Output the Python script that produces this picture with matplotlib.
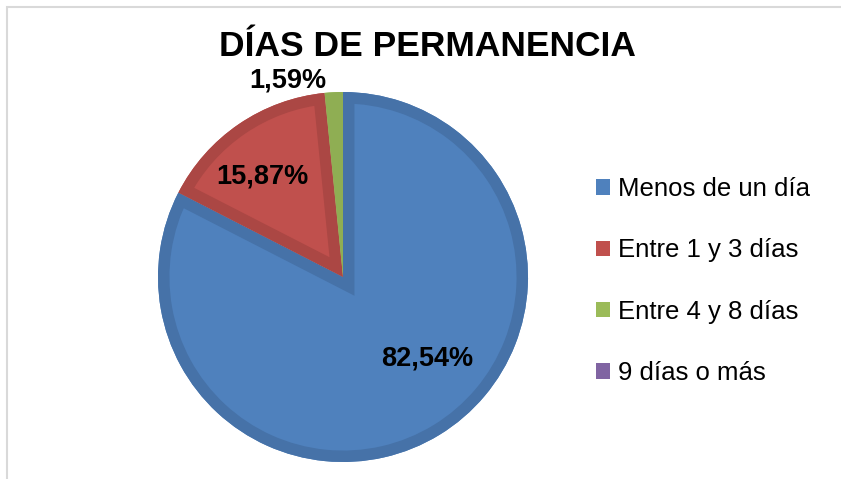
import matplotlib
matplotlib.use('Agg')
import matplotlib.pyplot as plt
from matplotlib.patches import Patch, Rectangle, Wedge

# data
categories = ['Menos de un día', 'Entre 1 y 3 días', 'Entre 4 y 8 días', '9 días o más']
percentages = [82.54, 15.87, 1.59, 0.0]
fill_colors = ['#4F81BD', '#C0504D', '#9BBB59', '#8064A2']
edge_colors = ['#4672A8', '#AB4744', '#8FAE53', '#735A92']
chart_title = 'DÍAS DE PERMANENCIA'

# label positions (pixels from top-left), Excel puts them by hand
label_pos = [(427, 358), (262, 176), (288, 80)]

W, H = 841, 479
plt.rcParams['font.family'] = ['Liberation Sans', 'DejaVu Sans']

fig = plt.figure(figsize=(W / 100, H / 100), dpi=100)
ax = fig.add_axes([0, 0, 1, 1])

# pie centre and radius in pixels
cx, cy, r = 343, H - 277, 185
wedges, _ = ax.pie(percentages, colors=fill_colors, startangle=90, counterclock=False,
                   center=(cx, cy), radius=r, wedgeprops=dict(linewidth=0))

# inner border like Excel: a stroke-only copy of each slice, clipped to the slice
for w, ec, v in zip(wedges, edge_colors, percentages):
    if v <= 0:
        continue
    border = Wedge(w.center, w.r, w.theta1, w.theta2, fill=False, edgecolor=ec,
                   linewidth=16.5, joinstyle='miter')
    ax.add_patch(border)
    border.set_clip_path(w)

ax.set_xlim(0, W)
ax.set_ylim(0, H)
ax.set_aspect('auto')
ax.axis('off')

# data labels with decimal comma
for (px, py), v in zip(label_pos, percentages):
    txt = f"{v:.2f}".replace('.', ',') + '%'
    ax.text(px, H - py, txt, ha='center', va='center', fontsize=19.5, fontweight='bold', color='black')

fig.text(427 / W, 1 - 47 / H, chart_title, ha='center', va='center', fontsize=25.5, fontweight='bold')

handles = [Patch(facecolor=c, edgecolor='none') for c in fill_colors]
fig.legend(handles, categories, loc='center left', bbox_to_anchor=(586 / W, 1 - 281 / H),
           frameon=False, fontsize=18.5, handlelength=0.55, handleheight=0.55,
           handletextpad=0.3, labelspacing=1.45, borderaxespad=0)

# outer chart frame (cropped screenshot, only top and left visible)
fig.add_artist(Rectangle((7 / W, -0.1), 1.2, 1.1 - 7 / H, transform=fig.transFigure,
                         fill=False, edgecolor='#D9D9D9', linewidth=1.5))

fig.savefig('out.png', dpi=100)
